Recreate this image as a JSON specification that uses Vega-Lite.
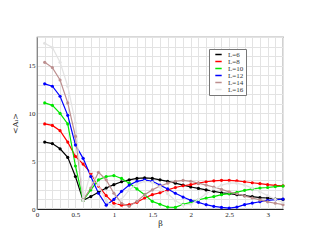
{
"$schema": "https://vega.github.io/schema/vega-lite/v6.json",
"width": 246, "height": 172,
"autosize": {"type": "none"},
"padding": {"left": 37, "top": 37, "right": 36, "bottom": 38},
"background": "white",
"config": {"font": "Liberation Serif", "view": {"stroke": "#666", "strokeWidth": 1.2}},
"datasets": {"raw": [
{"L":"L=6","v":[7.0,6.85,6.3,5.4,3.4,0.9,1.3,1.75,2.2,2.55,2.85,3.05,3.2,3.25,3.2,3.05,2.9,2.7,2.5,2.3,2.15,2.0,1.85,1.7,1.6,1.5,1.4,1.3,1.2,1.15,1.05,1.0]},
{"L":"L=8","v":[8.9,8.75,8.2,7.0,5.5,4.7,3.75,2.4,1.4,0.6,0.4,0.45,0.7,1.15,1.5,1.7,2.0,2.25,2.43,2.55,2.7,2.85,2.95,3.0,3.0,2.95,2.85,2.75,2.65,2.55,2.47,2.43]},
{"L":"L=10","v":[11.1,10.85,10.0,8.9,4.5,0.9,2.0,3.05,3.4,3.5,3.2,2.7,2.1,1.5,0.8,0.5,0.2,0.17,0.5,0.7,0.95,1.15,1.3,1.5,1.6,1.75,1.95,2.1,2.2,2.25,2.35,2.4]},
{"L":"L=12","v":[13.1,12.85,11.8,9.8,6.7,5.3,3.4,1.65,0.4,1.0,1.85,2.5,2.9,3.05,2.9,2.5,2.1,1.65,1.25,0.9,0.7,0.45,0.28,0.17,0.1,0.2,0.45,0.62,0.76,0.9,0.97,1.04]},
{"L":"L=14","v":[15.35,14.8,13.5,11.1,7.6,0.95,2.2,3.85,3.05,1.65,0.6,0.28,0.8,1.5,2.0,2.4,2.7,2.9,3.0,2.9,2.7,2.5,2.3,2.05,1.8,1.6,1.35,1.15,0.95,0.75,0.6,0.45]},
{"L":"L=16","v":[17.35,16.9,15.35,12.85,9.0,0.9,3.9,2.5,0.8,0.2,1.0,2.0,2.6,2.9,2.8,2.3,1.6,0.9,0.4,0.5,1.0,1.6,2.1,2.5,2.7,2.7,2.5,2.2,1.8,1.4,1.0,0.7]}
]},
"data": {"name": "raw"},
"transform": [
  {"flatten": ["v"], "as": ["val"]},
  {"window": [{"op": "row_number", "as": "i"}], "groupby": ["L"]},
  {"lookup": "i", "from": {"data": {"values": [
    {"i":1,"b":0.1},{"i":2,"b":0.2},{"i":3,"b":0.3},{"i":4,"b":0.4},{"i":5,"b":0.5},{"i":6,"b":0.6},{"i":7,"b":0.7},{"i":8,"b":0.8},{"i":9,"b":0.9},{"i":10,"b":1.0},{"i":11,"b":1.1},{"i":12,"b":1.2},{"i":13,"b":1.3},{"i":14,"b":1.4},{"i":15,"b":1.5},{"i":16,"b":1.6},{"i":17,"b":1.7},{"i":18,"b":1.8},{"i":19,"b":1.9},{"i":20,"b":2.0},{"i":21,"b":2.1},{"i":22,"b":2.2},{"i":23,"b":2.3},{"i":24,"b":2.4},{"i":25,"b":2.5},{"i":26,"b":2.6},{"i":27,"b":2.7},{"i":28,"b":2.8},{"i":29,"b":2.9},{"i":30,"b":3.0},{"i":31,"b":3.1},{"i":32,"b":3.2}
  ]}, "key": "i", "fields": ["b"]}}
],
"mark": {"type": "line", "strokeWidth": 1.2, "point": {"filled": true, "size": 10}},
"encoding": {
  "x": {"field": "b", "type": "quantitative", "title": "β",
    "scale": {"domain": [0, 3.2], "nice": false, "zero": false},
    "axis": {"values": [0,0.1,0.2,0.3,0.4,0.5,0.6,0.7,0.8,0.9,1,1.1,1.2,1.3,1.4,1.5,1.6,1.7,1.8,1.9,2,2.1,2.2,2.3,2.4,2.5,2.6,2.7,2.8,2.9,3,3.1,3.2],
      "format": "~g", "labelExpr": "abs(datum.value*2 - round(datum.value*2)) < 0.01 ? datum.label : ''",
      "labelOverlap": false, "labelFlush": false, "labelFontSize": 7, "labelColor": "#222", "labelPadding": 1, "labelFont": "Liberation Serif",
      "tickSize": 0, "domainColor": "#222", "gridColor": "#e3e3e3", "gridWidth": 1,
      "titleFontSize": 8, "titleFont": "DejaVu Serif", "titleFontWeight": "normal", "titlePadding": 2, "titleColor": "#222"}},
  "y": {"field": "val", "type": "quantitative", "title": "<Aₗ>",
    "scale": {"domain": [0, 18], "nice": false},
    "axis": {"values": [0,1,2,3,4,5,6,7,8,9,10,11,12,13,14,15,16,17,18],
      "labelExpr": "datum.value % 5 == 0 ? datum.label : ''", "labelFont": "Liberation Serif",
      "labelOverlap": false, "labelFontSize": 7, "labelColor": "#222", "labelPadding": 2,
      "tickSize": 0, "domainColor": "#888", "gridColor": "#e3e3e3", "gridWidth": 1,
      "titleFontSize": 8, "titleFont": "DejaVu Serif", "titleFontWeight": "normal", "titlePadding": 9, "titleColor": "#222"}},
  "color": {"field": "L", "type": "nominal",
    "scale": {"domain": ["L=6","L=8","L=10","L=12","L=14","L=16"], "range": ["#000000","#ff0000","#00e600","#0000ff","#bc8f8f","#e2e2e2"]},
    "legend": {"orient": "none", "legendX": 172, "legendY": 12, "title": null,
      "symbolType": "M-1.6,0H1.6", "symbolSize": 16, "symbolStrokeWidth": 1.5, "symbolOffset": 4,
      "labelFont": "Liberation Serif", "labelFontSize": 7, "labelColor": "#333", "rowPadding": -1.5,
      "strokeColor": "#777", "fillColor": "white", "padding": 2, "labelOffset": 6, "labelLimit": 30}}
}
}
